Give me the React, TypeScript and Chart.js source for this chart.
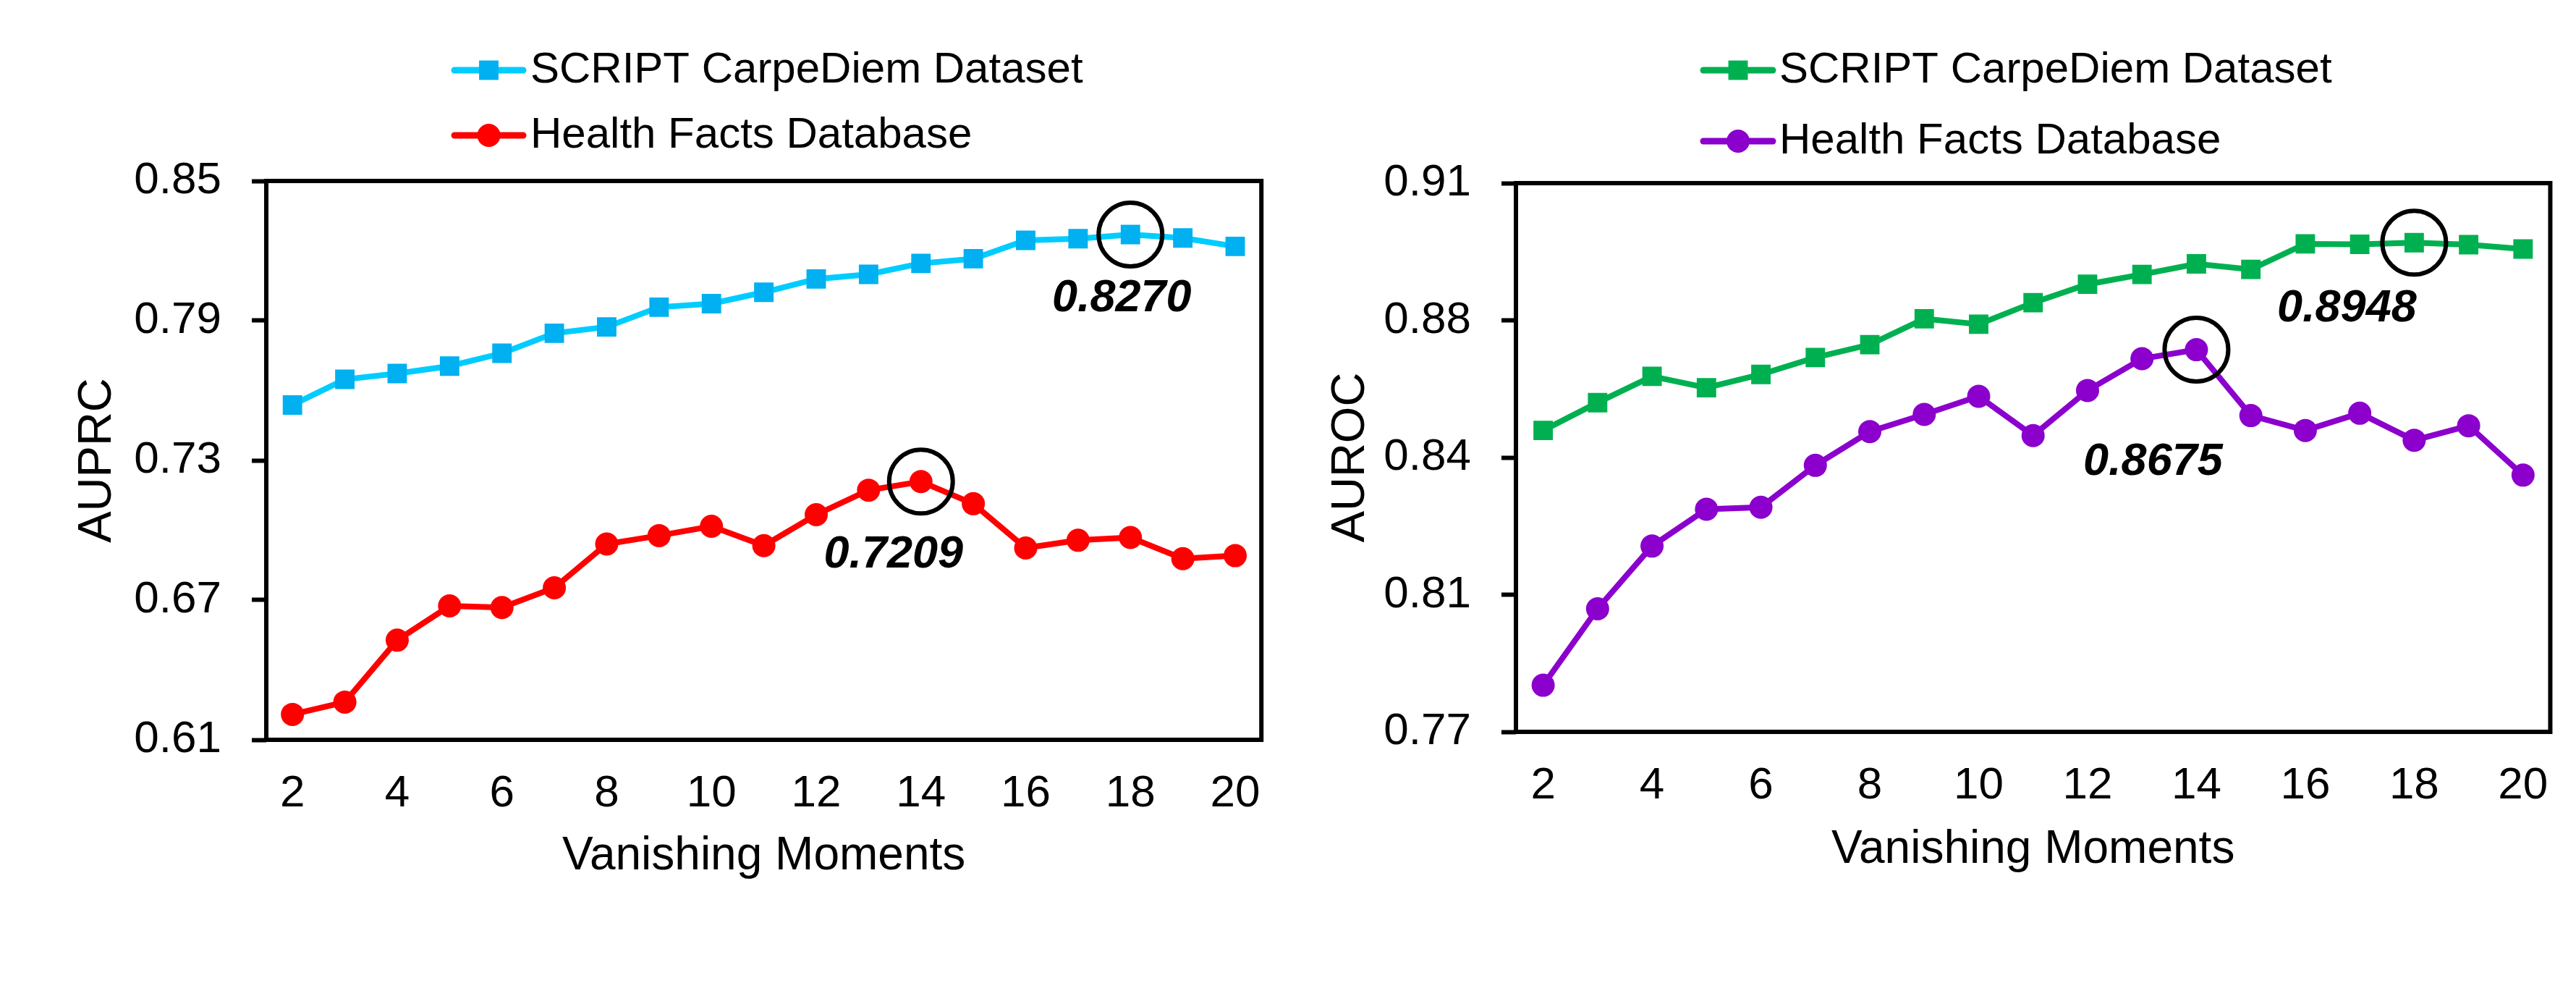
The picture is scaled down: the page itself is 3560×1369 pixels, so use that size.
import React, { useEffect, useRef } from 'react';
import { Chart, registerables } from 'chart.js';

Chart.register(...registerables);

const FONT = '"Liberation Sans", Arial, Helvetica, sans-serif';

// ---------------- data ----------------
const vanishingMoments = ['2', '3', '4', '5', '6', '7', '8', '9', '10', '11', '12', '13', '14', '15', '16', '17', '18', '19', '20'];
const xLabelStep = 2;
const seriesNames = ['SCRIPT CarpeDiem Dataset', 'Health Facts Database'];

const auprcScript = [0.7538, 0.7648, 0.7673, 0.7705, 0.7760, 0.7846, 0.7873, 0.7958, 0.7973, 0.8022, 0.8079, 0.8099, 0.8146, 0.8166, 0.8245, 0.8252, 0.8270, 0.8255, 0.8219];
const auprcHealth = [0.6209, 0.6262, 0.6528, 0.6675, 0.6668, 0.6753, 0.6941, 0.6977, 0.7017, 0.6934, 0.7067, 0.7172, 0.7209, 0.7114, 0.6924, 0.6957, 0.6969, 0.6878, 0.6891];
const aurocScript = [0.8469, 0.8540, 0.8607, 0.8578, 0.8612, 0.8655, 0.8688, 0.8754, 0.8740, 0.8795, 0.8842, 0.8867, 0.8894, 0.8880, 0.8945, 0.8944, 0.8948, 0.8943, 0.8932];
const aurocHealth = [0.7819, 0.8014, 0.8174, 0.8268, 0.8273, 0.8380, 0.8466, 0.8510, 0.8556, 0.8456, 0.8571, 0.8652, 0.8675, 0.8507, 0.8469, 0.8513, 0.8444, 0.8481, 0.8355];

const auprcTickValues = [0.61, 0.67, 0.73, 0.79, 0.85];
const auprcTickLabels = ['0.61', '0.67', '0.73', '0.79', '0.85'];
const aurocTickValues = [0.77, 0.805, 0.84, 0.875, 0.91];
const aurocTickLabels = ['0.77', '0.81', '0.84', '0.88', '0.91'];

const auprcHighlightSeries = [0, 1];
const auprcHighlightIndex = [16, 12];
const auprcHighlightText = ['0.8270', '0.7209'];
const aurocHighlightSeries = [0, 1];
const aurocHighlightIndex = [16, 12];
const aurocHighlightText = ['0.8948', '0.8675'];

// ---------------- layout / style ----------------
const CANVAS_H = 1369;

type Panel = {
  left: number;
  width: number;
  plot: { left: number; right: number; top: number; bottom: number };
  yTitle: string;
  yTitleX: number;
  xTitleY: number;
  legend: { x0: number; x1: number; textX: number; rows: number[] };
  lineColors: string[];
  markerColors: string[];
  pointStyles: string[];
  series: number[][];
  tickValues: number[];
  tickLabels: string[];
  hlSeries: number[];
  hlIndex: number[];
  hlText: string[];
  hlOffsets: number[][];
};

const panels: Panel[] = [
  {
    left: 0,
    width: 1780,
    plot: { left: 368, right: 1770, top: 250, bottom: 1022 },
    yTitle: 'AUPRC',
    yTitleX: 135,
    xTitleY: 1183,
    legend: { x0: 628, x1: 723, textX: 733, rows: [97, 187] },
    lineColors: ['#00CCFF', '#FF0000'],
    markerColors: ['#00B0F0', '#FF0000'],
    pointStyles: ['rect', 'circle'],
    series: [auprcScript, auprcHealth],
    tickValues: auprcTickValues,
    tickLabels: auprcTickLabels,
    hlSeries: auprcHighlightSeries,
    hlIndex: auprcHighlightIndex,
    hlText: auprcHighlightText,
    hlOffsets: [[-12, 89], [-38, 101]],
  },
  {
    left: 1780,
    width: 1780,
    plot: { left: 315, right: 1754, top: 253, bottom: 1011 },
    yTitle: 'AUROC',
    yTitleX: 87,
    xTitleY: 1174,
    legend: { x0: 574, x1: 670, textX: 679, rows: [97, 195] },
    lineColors: ['#00B050', '#8B00CC'],
    markerColors: ['#00B050', '#8B00CC'],
    pointStyles: ['rect', 'circle'],
    series: [aurocScript, aurocHealth],
    tickValues: aurocTickValues,
    tickLabels: aurocTickLabels,
    hlSeries: aurocHighlightSeries,
    hlIndex: aurocHighlightIndex,
    hlText: aurocHighlightText,
    hlOffsets: [[-93, 91], [-60, 156]],
  },
];

const LINE_W = 8;
const RECT_R = 19;
const CIRC_R = 16;
const FRAME_W = 6;
const TICK_FONT = 62;
const XTITLE_FONT = 64;
const YTITLE_FONT = 65;
const LEGEND_FONT = 60;
const HL_FONT = 63;

function makeDecor(p: Panel) {
  return {
    id: 'decor',
    afterDraw(chart: any) {
      const { ctx, chartArea } = chart;
      ctx.save();
      // frame
      ctx.strokeStyle = '#000';
      ctx.lineWidth = FRAME_W;
      ctx.strokeRect(chartArea.left, chartArea.top, chartArea.right - chartArea.left, chartArea.bottom - chartArea.top);

      // highlight circles + labels
      p.hlSeries.forEach((s, k) => {
        const el = chart.getDatasetMeta(s).data[p.hlIndex[k]];
        ctx.beginPath();
        ctx.arc(el.x, el.y, 44, 0, Math.PI * 2);
        ctx.lineWidth = 6;
        ctx.strokeStyle = '#000';
        ctx.stroke();
        ctx.font = `italic bold ${HL_FONT}px ${FONT}`;
        ctx.textAlign = 'center';
        ctx.textBaseline = 'middle';
        ctx.fillStyle = '#000';
        ctx.fillText(p.hlText[k], el.x + p.hlOffsets[k][0], el.y + p.hlOffsets[k][1]);
      });

      // legend
      chart.data.datasets.forEach((ds: any, i: number) => {
        const y = p.legend.rows[i];
        ctx.beginPath();
        ctx.moveTo(p.legend.x0, y);
        ctx.lineTo(p.legend.x1, y);
        ctx.lineWidth = LINE_W + 1;
        ctx.lineCap = 'round';
        ctx.strokeStyle = p.lineColors[i];
        ctx.stroke();
        const cx = (p.legend.x0 + p.legend.x1) / 2;
        ctx.fillStyle = p.markerColors[i];
        if (p.pointStyles[i] === 'rect') {
          const h = RECT_R * Math.SQRT1_2;
          ctx.fillRect(cx - h, y - h, 2 * h, 2 * h);
        } else {
          ctx.beginPath();
          ctx.arc(cx, y, CIRC_R, 0, Math.PI * 2);
          ctx.fill();
        }
        ctx.font = `${LEGEND_FONT}px ${FONT}`;
        ctx.textAlign = 'left';
        ctx.textBaseline = 'middle';
        ctx.fillStyle = '#000';
        ctx.fillText(ds.label, p.legend.textX, y);
      });
      ctx.restore();
    },
  };
}

function PanelChart({ p }: { p: Panel }) {
  const ref = useRef<HTMLCanvasElement | null>(null);
  useEffect(() => {
    if (!ref.current) return;
    const xTitleLH = XTITLE_FONT * 1.2;
    const yTitleLH = YTITLE_FONT * 1.2;
    const chart = new Chart(ref.current, {
      type: 'line',
      data: {
        labels: vanishingMoments,
        datasets: p.series.map((d, i) => ({
          label: seriesNames[i],
          data: d,
          borderColor: p.lineColors[i],
          backgroundColor: p.markerColors[i],
          pointBackgroundColor: p.markerColors[i],
          pointBorderColor: p.markerColors[i],
          pointBorderWidth: 0,
          pointStyle: p.pointStyles[i] as any,
          pointRadius: p.pointStyles[i] === 'rect' ? RECT_R : CIRC_R,
          borderWidth: LINE_W,
          tension: 0,
          fill: false,
        })),
      },
      options: {
        responsive: false,
        animation: false,
        devicePixelRatio: 1,
        events: [],
        layout: {
          padding: { left: 0, top: p.plot.top, right: p.width - p.plot.right, bottom: 0 },
        },
        plugins: {
          legend: { display: false },
          tooltip: { enabled: false },
        },
        scales: {
          x: {
            type: 'category',
            offset: true,
            grid: { display: false, drawTicks: false },
            border: { display: false },
            ticks: {
              autoSkip: false,
              maxRotation: 0,
              minRotation: 0,
              padding: 38,
              color: '#000',
              font: { family: FONT, size: TICK_FONT },
              callback: (_v: any, i: number) => (i % xLabelStep === 0 ? vanishingMoments[i] : ''),
            },
            title: {
              display: true,
              text: 'Vanishing Moments',
              color: '#000',
              font: { family: FONT, size: XTITLE_FONT },
              padding: { top: 0, bottom: CANVAS_H - p.xTitleY - xTitleLH / 2 },
            },
            afterFit: (s: any) => {
              s.height = CANVAS_H - p.plot.bottom;
            },
          },
          y: {
            min: p.tickValues[0],
            max: p.tickValues[p.tickValues.length - 1],
            afterBuildTicks: (s: any) => {
              s.ticks = p.tickValues.map((v) => ({ value: v }));
            },
            grid: {
              display: true,
              drawOnChartArea: false,
              drawTicks: true,
              tickLength: 20,
              tickWidth: 6,
              tickColor: '#000',
            },
            border: { display: false },
            ticks: {
              padding: 42,
              color: '#000',
              font: { family: FONT, size: TICK_FONT },
              callback: (v: any) => {
                const k = p.tickValues.indexOf(Number(v));
                return k >= 0 ? p.tickLabels[k] : '';
              },
            },
            title: {
              display: true,
              text: p.yTitle,
              color: '#000',
              font: { family: FONT, size: YTITLE_FONT },
              padding: { top: p.yTitleX - yTitleLH / 2, bottom: 0 },
            },
            afterFit: (s: any) => {
              s.width = p.plot.left;
            },
          },
        },
      } as any,
      plugins: [makeDecor(p)],
    });
    return () => chart.destroy();
  }, [p]);
  return (
    <canvas
      ref={ref}
      width={p.width}
      height={CANVAS_H}
      style={{ position: 'absolute', left: p.left, top: 0, width: p.width, height: CANVAS_H }}
    />
  );
}

export default function App() {
  return (
    <div
      style={{
        position: 'absolute',
        left: 0,
        top: 0,
        width: 3560,
        height: CANVAS_H,
        background: '#fff',
        overflow: 'hidden',
      }}
    >
      {panels.map((p, i) => (
        <PanelChart key={i} p={p} />
      ))}
    </div>
  );
}
